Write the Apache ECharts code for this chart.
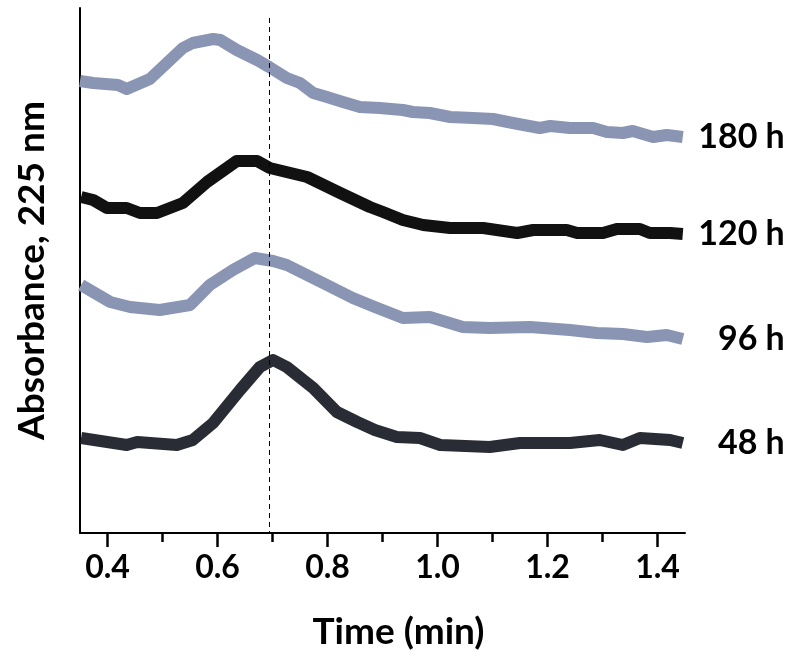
<!DOCTYPE html>
<html>
<head>
<meta charset="utf-8">
<script src="https://cdn.jsdelivr.net/npm/echarts@6/dist/echarts.min.js"></script>
<style>
html,body{margin:0;padding:0;background:#fff;}
#c{width:800px;height:662px;}
</style>
</head>
<body>
<div id="c"></div>
<script>
// Series: time (min) and absorbance (arbitrary, offset) values
const t180 = [0.350,0.374,0.419,0.435,0.477,0.537,0.555,0.592,0.605,0.635,0.672,0.694,0.726,0.750,0.774,0.799,0.828,0.859,0.895,0.937,0.955,0.986,1.023,1.065,1.101,1.137,1.186,1.205,1.241,1.283,1.308,1.337,1.355,1.392,1.417,1.446];
const y180 = [4.52,4.50,4.48,4.44,4.54,4.85,4.90,4.94,4.93,4.83,4.73,4.66,4.55,4.50,4.40,4.36,4.31,4.26,4.25,4.23,4.21,4.20,4.16,4.15,4.14,4.10,4.05,4.07,4.05,4.05,4.01,4.00,4.02,3.96,3.98,3.96];

const t120 = [0.352,0.374,0.399,0.435,0.459,0.490,0.537,0.581,0.635,0.672,0.695,0.763,0.823,0.877,0.901,0.937,0.974,1.023,1.083,1.145,1.174,1.235,1.254,1.301,1.326,1.368,1.386,1.423,1.446];
const y120 = [3.36,3.33,3.25,3.25,3.20,3.20,3.30,3.51,3.72,3.72,3.65,3.56,3.40,3.26,3.21,3.13,3.08,3.05,3.05,3.00,3.03,3.03,3.00,3.00,3.04,3.04,3.00,3.00,2.99];

const t96 = [0.352,0.405,0.441,0.495,0.550,0.586,0.628,0.668,0.701,0.726,0.799,0.846,0.886,0.937,0.986,1.046,1.095,1.168,1.241,1.290,1.337,1.381,1.417,1.446];
const y96 = [2.48,2.31,2.26,2.23,2.28,2.48,2.63,2.75,2.72,2.68,2.48,2.35,2.26,2.15,2.16,2.06,2.05,2.06,2.03,2.00,1.99,1.96,1.98,1.94];

const t48 = [0.352,0.435,0.454,0.526,0.555,0.592,0.641,0.677,0.701,0.726,0.774,0.817,0.854,0.886,0.926,0.968,1.005,1.095,1.150,1.241,1.295,1.337,1.368,1.423,1.446];
const y48 = [0.95,0.88,0.91,0.88,0.93,1.10,1.43,1.66,1.73,1.66,1.45,1.21,1.11,1.03,0.96,0.95,0.88,0.86,0.90,0.90,0.93,0.88,0.95,0.93,0.90];

const seriesNames = ['180 h','120 h','96 h','48 h'];
const seriesColors = ['#8a95b3','#111111','#8a95b3','#2a2c35'];
const peakTime = 0.694;
const xTicks = [0.4,0.6,0.8,1.0,1.2,1.4];

const zip = (a,b) => a.map((v,i)=>[v,b[i]]);
const allT = [t180,t120,t96,t48];
const allY = [y180,y120,y96,y48];

const FONT = 'Lato, "Open Sans", sans-serif';
const chart = echarts.init(document.getElementById('c'), null, {renderer:'canvas'});

const series = seriesNames.map((n,i)=>({
  name:n, type:'line', data: zip(allT[i], allY[i]), showSymbol:false, symbol:'none',
  smooth:false, lineStyle:{width:12, color:seriesColors[i], cap:'butt', join:'round'},
  itemStyle:{color:seriesColors[i]}, silent:true, z:3,
  endLabel:{show:true, formatter:n, color:'#000', fontFamily:FONT, fontWeight:'bold', fontSize:34,
    align:'right', distance:102}
}));
series.push({
  type:'line', data:[], silent:true,
  markLine:{symbol:'none', silent:true, label:{show:false},
    lineStyle:{type:[5,4], color:'#000', width:1},
    data:[[{coord:[peakTime,5.15]},{coord:[peakTime,0]}]]}
});

chart.setOption({
  animation:false,
  backgroundColor:'#fff',
  grid:{left:80, right:115, top:8, bottom:129, containLabel:false, outerBoundsMode:'none'},
  xAxis:{
    type:'value', min:0.35, max:1.45, interval:0.05,
    axisLine:{lineStyle:{color:'#000', width:2}},
    axisTick:{show:false},
    splitLine:{show:false},
    axisLabel:{
      showMinLabel:false, showMaxLabel:false,
      formatter:v=>xTicks.some(x=>Math.abs(x-v)<1e-6) ? v.toFixed(1) : '',
      color:'#000', fontFamily:FONT, fontWeight:'bold', fontSize:32, margin:19
    },
    name:'Time (min)', nameLocation:'middle', nameGap:81,
    nameTextStyle:{color:'#000', fontFamily:FONT, fontWeight:'bold', fontSize:37, padding:[0,0,0,32]}
  },
  yAxis:{
    type:'value', min:0, max:5.25,
    axisLine:{show:true, lineStyle:{color:'#000', width:2}},
    axisTick:{show:false}, axisLabel:{show:false}, splitLine:{show:false},
    name:'Absorbance, 225 nm', nameLocation:'middle', nameGap:29,
    nameTextStyle:{color:'#000', fontFamily:FONT, fontWeight:'bold', fontSize:37}
  },
  series: series
});

// tick marks at every 0.1 (outside, downward)
const minorTicks = [];
for (let k=4;k<=14;k++) minorTicks.push(k/10);
const gfx = minorTicks.map(v=>{
  const p = chart.convertToPixel({gridIndex:0},[v,0]);
  return {type:'line', shape:{x1:p[0],y1:p[1],x2:p[0],y2:p[1]+(Math.round(v*10)%2===0?14:9)}, style:{stroke:'#000', lineWidth:2.5}, silent:true};
});
chart.setOption({graphic:gfx});
</script>
</body>
</html>
